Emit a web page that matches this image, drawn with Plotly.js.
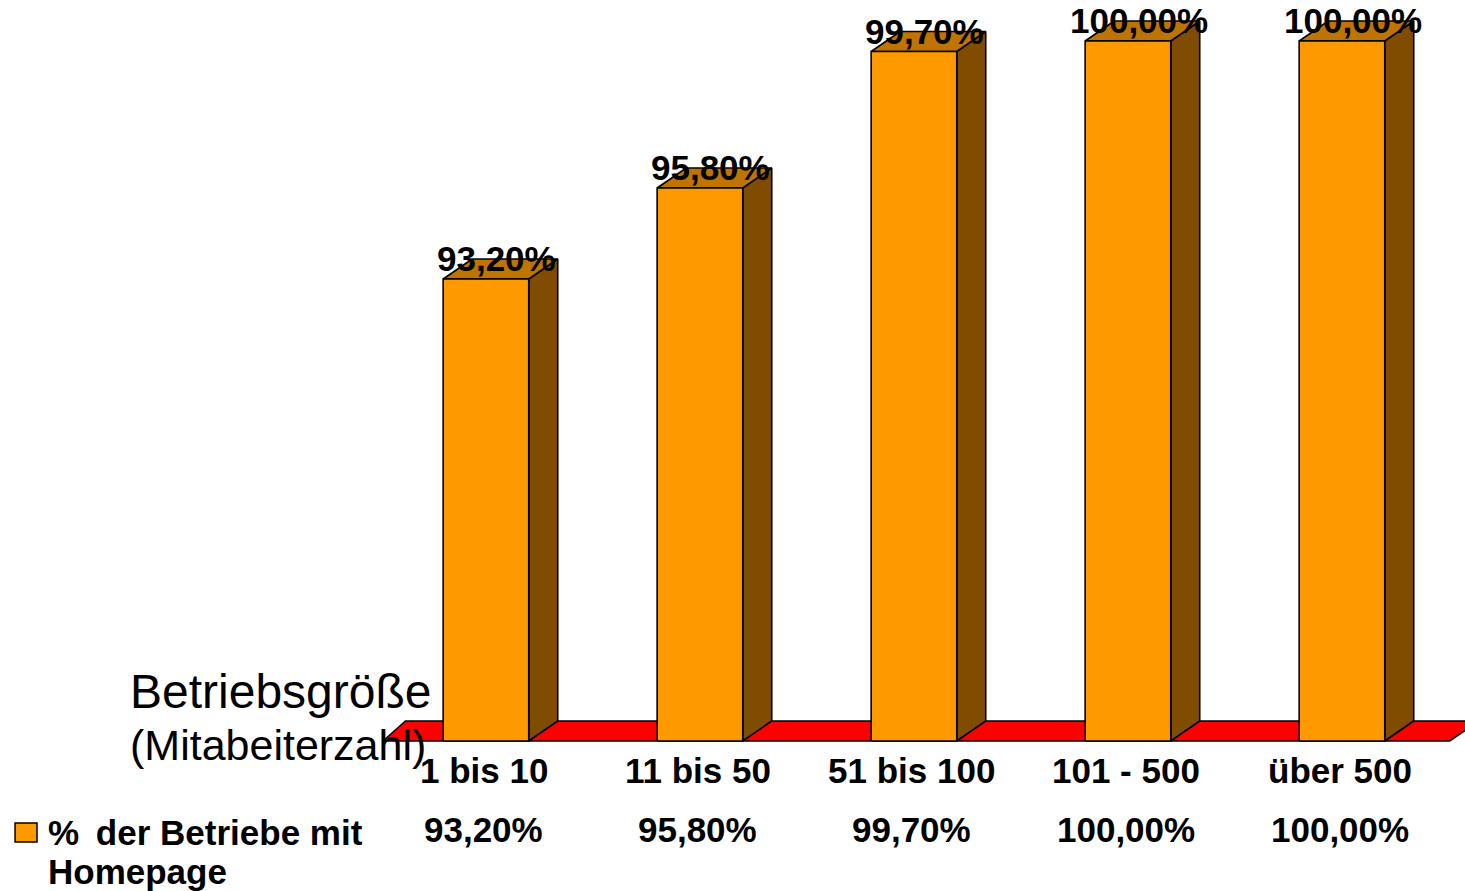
<!DOCTYPE html>
<html>
<head>
<meta charset="utf-8">
<script src="https://cdn.plot.ly/plotly-3.0.1.min.js"></script>
<style>
  html, body { margin: 0; padding: 0; background: #ffffff; }
  #chart { width: 1465px; height: 891px; }
</style>
</head>
<body>
<div id="chart"></div>
<script>
// Betriebsgröße (Mitarbeiterzahl) vs. share of businesses with a homepage
const categories = ['1 bis 10', '11 bis 50', '51 bis 100', '101 - 500', 'über 500'];
const values = [93.2, 95.8, 99.7, 100.0, 100.0];
const seriesName = '% der Betriebe mit Homepage';

// German number format: 93,20%
const fmt = v => v.toFixed(2).replace('.', ',') + '%';

// Geometry of the pseudo-3D columns, in axis units
const Y_BASE = 80;         // value axis starts here
const BAR_W = 0.40;        // front face width
const BAR_OFF = -0.219;    // front face left edge relative to category centre
const DEPTH_X = 0.1355;    // receding depth, horizontal
const DEPTH_Y = 0.571;     // receding depth, vertical
const FLOOR_DX = 0.105;    // slant of the floor's left edge

const C_FRONT = '#FF9900';
const C_TOP = '#BF7300';
const C_SIDE = '#7F4C00';
const C_FLOOR = '#FF0000';
const EDGE = { color: '#000000', width: 1.6 };
const FONT = 'Liberation Sans, Arial, Helvetica, sans-serif';

function poly(xs, ys, fill) {
  return {
    type: 'scatter', mode: 'lines', fill: 'toself', fillcolor: fill,
    x: xs.concat([xs[0]]), y: ys.concat([ys[0]]),
    line: EDGE, hoverinfo: 'skip', showlegend: false
  };
}

const traces = [];

// red floor
const fL = -0.5, fR = categories.length - 0.515;
traces.push(poly(
  [fL, fR, fR + DEPTH_X, fL + FLOOR_DX],
  [Y_BASE, Y_BASE, Y_BASE + DEPTH_Y, Y_BASE + DEPTH_Y],
  C_FLOOR));

// columns: side, top, front
values.forEach((v, i) => {
  const x0 = i + BAR_OFF, x1 = x0 + BAR_W;
  traces.push(poly(
    [x1, x1 + DEPTH_X, x1 + DEPTH_X, x1],
    [Y_BASE, Y_BASE + DEPTH_Y, v + DEPTH_Y, v], C_SIDE));
  traces.push(poly(
    [x0, x1, x1 + DEPTH_X, x0 + DEPTH_X],
    [v, v, v + DEPTH_Y, v + DEPTH_Y], C_TOP));
  traces.push(poly(
    [x0, x1, x1, x0],
    [Y_BASE, Y_BASE, v, v], C_FRONT));
});

const annotations = [];
const boldFont = { family: FONT, size: 35, color: '#000000', weight: 'bold' };

values.forEach((v, i) => {
  const xc = i + BAR_OFF + BAR_W / 2;
  // value above each column
  annotations.push({
    x: xc, y: v, xref: 'x', yref: 'y', text: '<b>' + fmt(v) + '</b>',
    showarrow: false, xanchor: 'center', yanchor: 'middle',
    xshift: 11, yshift: 20, font: boldFont
  });
  // data table: category row
  annotations.push({
    x: xc, y: -0.034, xref: 'x', yref: 'paper', text: '<b>' + categories[i] + '</b>',
    showarrow: false, xanchor: 'center', yanchor: 'middle', xshift: -2, font: boldFont
  });
  // data table: value row
  annotations.push({
    x: xc, y: -0.114, xref: 'x', yref: 'paper', text: '<b>' + fmt(v) + '</b>',
    showarrow: false, xanchor: 'center', yanchor: 'middle', xshift: -2, font: boldFont
  });
});

// axis caption
annotations.push({
  x: -0.2300, y: 0.072, xref: 'paper', yref: 'paper', text: 'Betriebsgröße',
  showarrow: false, xanchor: 'left', yanchor: 'middle',
  font: { family: FONT, size: 48, color: '#000000' }
});
annotations.push({
  x: -0.2300, y: 0.0, xref: 'paper', yref: 'paper', text: '(Mitabeiterzahl)',
  showarrow: false, xanchor: 'left', yanchor: 'middle',
  font: { family: FONT, size: 43, color: '#000000' }
});

// legend entry of the data table
const legendWords = seriesName.split(' ');
annotations.push({
  x: -0.3055, y: -0.118, xref: 'paper', yref: 'paper',
  text: '<b>' + legendWords[0] + '\u2009 ' + legendWords.slice(1, 4).join(' ') + '</b>',
  showarrow: false, xanchor: 'left', yanchor: 'middle', font: boldFont
});
annotations.push({
  x: -0.3055, y: -0.17, xref: 'paper', yref: 'paper',
  text: '<b>' + legendWords.slice(4).join(' ') + '</b>',
  showarrow: false, xanchor: 'left', yanchor: 'middle', font: boldFont
});

const layout = {
  width: 1465, height: 891,
  margin: { l: 378, r: 0, t: 0, b: 146, pad: 0 },
  paper_bgcolor: '#ffffff', plot_bgcolor: '#ffffff',
  showlegend: false,
  xaxis: {
    range: [-0.5234, 4.556], visible: false, fixedrange: true
  },
  yaxis: {
    range: [79.886, 101.171], visible: false, fixedrange: true
  },
  shapes: [{
    type: 'rect', xref: 'paper', yref: 'paper',
    x0: -0.3339, x1: -0.3137, y0: -0.1302, y1: -0.1047,
    fillcolor: C_FRONT, line: { color: '#000000', width: 1.5 }
  }],
  annotations: annotations
};

Plotly.newPlot('chart', traces, layout, { displayModeBar: false, staticPlot: true });
</script>
</body>
</html>
